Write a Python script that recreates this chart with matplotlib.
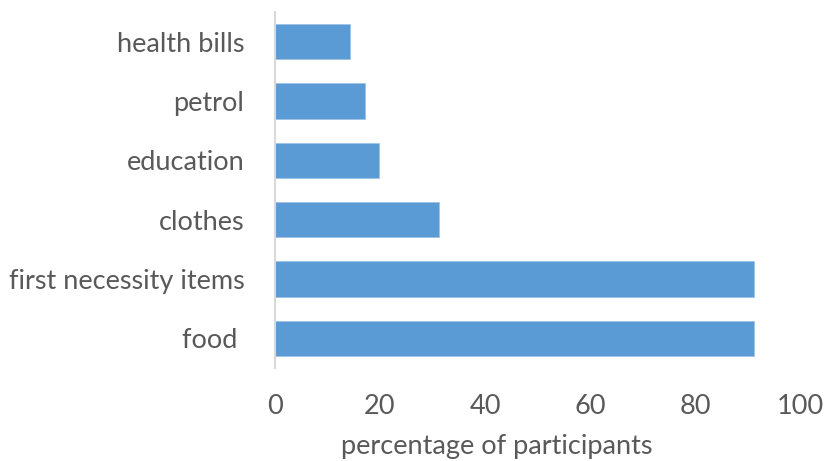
import matplotlib.pyplot as plt

# categories bottom -> top
categories = ['food ', 'first necessity items', 'clothes', 'education', 'petrol', 'health bills']
values = [91.2, 91.2, 31.2, 19.8, 17.1, 14.2]
xticks = [0, 20, 40, 60, 80, 100]

plt.rcParams['font.family'] = ['Lato', 'DejaVu Sans']

fig = plt.figure(figsize=(8.24, 4.61), dpi=100)
ax = fig.add_axes([0.3337, 0.2017, 0.9709 - 0.3337, 0.974 - 0.2017])

ax.barh(categories, values, height=0.6, color='#5B9BD5', edgecolor='#9DC3E6', linewidth=0.6)

ax.set_xlim(0, 100)
ax.set_ylim(-0.5, len(categories) - 0.5)
ax.set_xticks(xticks)
for s in ['top', 'right', 'bottom']:
    ax.spines[s].set_visible(False)
ax.spines['left'].set_color('#D9D9D9')
ax.spines['left'].set_linewidth(1.5)
ax.tick_params(axis='both', length=0, colors='#595959', labelsize=19.5)
ax.tick_params(axis='x', pad=19)
ax.tick_params(axis='y', pad=22)
ax.set_xlabel('percentage of participants', color='#595959', fontsize=19.5)
ax.xaxis.set_label_coords(0.423, -0.186)

fig.savefig('out.png', dpi=100)
